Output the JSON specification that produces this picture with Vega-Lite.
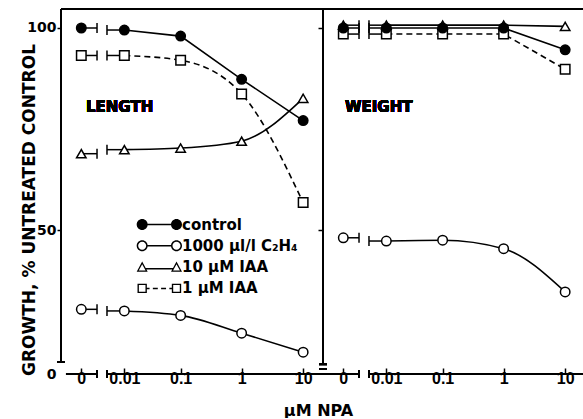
{
  "$schema": "https://vega.github.io/schema/vega-lite/v6.json",
  "padding": {"left": 20, "top": 8, "right": 0, "bottom": 0},
  "config": {
    "view": {"stroke": null},
    "font": "DejaVu Sans",
    "axis": {"labelColor": "black", "tickColor": "black", "titleColor": "black", "domainColor": "black", "grid": false}
  },
  "datasets": {
    "growth": [
      {"panel": "LENGTH", "series": "1 µM IAA", "npa": 0, "growth": 93.2},
      {"panel": "LENGTH", "series": "1 µM IAA", "npa": 0.01, "growth": 93.2},
      {"panel": "LENGTH", "series": "1 µM IAA", "npa": 0.1, "growth": 92.0},
      {"panel": "LENGTH", "series": "1 µM IAA", "npa": 1, "growth": 83.7},
      {"panel": "LENGTH", "series": "1 µM IAA", "npa": 10, "growth": 56.8},
      {"panel": "LENGTH", "series": "10 µM IAA", "npa": 0, "growth": 68.9},
      {"panel": "LENGTH", "series": "10 µM IAA", "npa": 0.01, "growth": 69.9},
      {"panel": "LENGTH", "series": "10 µM IAA", "npa": 0.1, "growth": 70.3},
      {"panel": "LENGTH", "series": "10 µM IAA", "npa": 1, "growth": 72.0},
      {"panel": "LENGTH", "series": "10 µM IAA", "npa": 10, "growth": 82.6},
      {"panel": "LENGTH", "series": "1000 µl/l C₂H₄", "npa": 0, "growth": 30.4},
      {"panel": "LENGTH", "series": "1000 µl/l C₂H₄", "npa": 0.01, "growth": 30.0},
      {"panel": "LENGTH", "series": "1000 µl/l C₂H₄", "npa": 0.1, "growth": 28.9},
      {"panel": "LENGTH", "series": "1000 µl/l C₂H₄", "npa": 1, "growth": 24.5},
      {"panel": "LENGTH", "series": "1000 µl/l C₂H₄", "npa": 10, "growth": 19.8},
      {"panel": "LENGTH", "series": "control", "npa": 0, "growth": 100.0},
      {"panel": "LENGTH", "series": "control", "npa": 0.01, "growth": 99.5},
      {"panel": "LENGTH", "series": "control", "npa": 0.1, "growth": 98.0},
      {"panel": "LENGTH", "series": "control", "npa": 1, "growth": 87.3},
      {"panel": "LENGTH", "series": "control", "npa": 10, "growth": 77.1},
      {"panel": "WEIGHT", "series": "1 µM IAA", "npa": 0, "growth": 98.5},
      {"panel": "WEIGHT", "series": "1 µM IAA", "npa": 0.01, "growth": 98.5},
      {"panel": "WEIGHT", "series": "1 µM IAA", "npa": 0.1, "growth": 98.5},
      {"panel": "WEIGHT", "series": "1 µM IAA", "npa": 1, "growth": 98.5},
      {"panel": "WEIGHT", "series": "1 µM IAA", "npa": 10, "growth": 89.8},
      {"panel": "WEIGHT", "series": "10 µM IAA", "npa": 0, "growth": 100.7},
      {"panel": "WEIGHT", "series": "10 µM IAA", "npa": 0.01, "growth": 100.7},
      {"panel": "WEIGHT", "series": "10 µM IAA", "npa": 0.1, "growth": 100.7},
      {"panel": "WEIGHT", "series": "10 µM IAA", "npa": 1, "growth": 100.7},
      {"panel": "WEIGHT", "series": "10 µM IAA", "npa": 10, "growth": 100.4},
      {"panel": "WEIGHT", "series": "1000 µl/l C₂H₄", "npa": 0, "growth": 48.1},
      {"panel": "WEIGHT", "series": "1000 µl/l C₂H₄", "npa": 0.01, "growth": 47.3},
      {"panel": "WEIGHT", "series": "1000 µl/l C₂H₄", "npa": 0.1, "growth": 47.5},
      {"panel": "WEIGHT", "series": "1000 µl/l C₂H₄", "npa": 1, "growth": 45.4},
      {"panel": "WEIGHT", "series": "1000 µl/l C₂H₄", "npa": 10, "growth": 34.7},
      {"panel": "WEIGHT", "series": "control", "npa": 0, "growth": 100.0},
      {"panel": "WEIGHT", "series": "control", "npa": 0.01, "growth": 100.0},
      {"panel": "WEIGHT", "series": "control", "npa": 0.1, "growth": 100.0},
      {"panel": "WEIGHT", "series": "control", "npa": 1, "growth": 100.0},
      {"panel": "WEIGHT", "series": "control", "npa": 10, "growth": 94.6}
    ]
  },
  "data": {"name": "growth"},
  "spacing": 0,
  "bounds": "flush",
  "resolve": {"scale": {"shape": "independent", "x": "independent", "y": "independent"}, "legend": {"shape": "independent"}},
  "hconcat": [
    {
      "width": 262,
      "height": 365,
      "transform": [{"filter": "datum.panel === 'LENGTH'"}],
      "resolve": {"scale": {"shape": "independent"}, "legend": {"shape": "independent"}},
      "layer": [
        {
          "mark": {"type": "point", "filled": true, "color": "black", "opacity": 0, "strokeWidth": 0, "size": 121},
          "encoding": {
            "x": {"field": "npa", "type": "quantitative"},
            "y": {"field": "growth", "type": "quantitative"},
            "shape": {"field": "series", "type": "nominal",
              "scale": {"domain": ["control", "1000 µl/l C₂H₄", "10 µM IAA", "1 µM IAA"],
                "range": [
                  "M1,0A1,1,0,1,1,-1,0A1,1,0,1,1,1,0ZM-5.24,0A1,1,0,1,1,-7.24,0A1,1,0,1,1,-5.24,0ZM-5.3,-0.14H-0.95V0.14H-5.3Z",
                  "M1,0A1,1,0,1,1,-1,0A1,1,0,1,1,1,0ZM0.73,0A0.73,0.73,0,1,0,-0.73,0A0.73,0.73,0,1,0,0.73,0ZM-5.24,0A1,1,0,1,1,-7.24,0A1,1,0,1,1,-5.24,0ZM-5.51,0A0.73,0.73,0,1,0,-6.97,0A0.73,0.73,0,1,0,-5.51,0ZM-5.3,-0.14H-0.95V0.14H-5.3Z",
                  "M0,-1L1,0.85L-1,0.85ZM0,-0.531L-0.62,0.616L0.62,0.616ZM-6.24,-1L-5.24,0.85L-7.24,0.85ZM-6.24,-0.531L-6.86,0.616L-5.62,0.616ZM-5.6,0.16H-0.64V0.44H-5.6Z",
                  "M-0.85,-0.85H0.85V0.85H-0.85ZM-0.6,-0.6V0.6H0.6V-0.6ZM-7.09,-0.85H-5.39V0.85H-7.09ZM-6.84,-0.6V0.6H-5.64V-0.6ZM-5.4,-0.14H-4.9V0.14H-5.4ZM-4.3,-0.14H-3.4V0.14H-4.3ZM-2.8,-0.14H-1.9V0.14H-2.8ZM-1.3,-0.14H-0.8V0.14H-1.3Z"
                ]},
              "legend": {"orient": "none", "legendX": 108, "legendY": 208, "title": null, "padding": 0,
                "symbolSize": 121, "symbolOpacity": 1, "symbolStrokeWidth": 0, "symbolFillColor": "black", "symbolStrokeColor": "black",
                "labelOffset": -2, "rowPadding": 5.3,
                "labelFont": "DejaVu Sans", "labelFontSize": 15, "labelFontWeight": "bold", "labelColor": "black"}}
          }
        },
        {
          "mark": {"type": "rule", "strokeWidth": 1.8, "color": "black"},
          "encoding": {"y": {"datum": 104.7}}
        },
        {
          "mark": {"type": "rule", "strokeWidth": 1.8, "color": "black"},
          "encoding": {"x": {"datum": -0.00284}, "y": {"datum": 17.3}, "y2": {"datum": 104.7}}
        },
        {
          "mark": {"type": "rule", "strokeWidth": 1.5, "color": "black", "xOffset": -4, "x2Offset": 4},
          "encoding": {"x": {"datum": -0.00284}, "x2": {"datum": -0.00284}, "y": {"datum": 17.3}}
        },
        {
          "mark": {"type": "rule", "strokeWidth": 1.8, "color": "black"},
          "encoding": {"x": {"datum": -0.00193}, "x2": {"datum": 0.0020}, "y": {"datum": 14.4}}
        },
        {
          "mark": {"type": "rule", "strokeWidth": 1.8, "color": "black"},
          "encoding": {"x": {"datum": 0.00403}, "x2": {"datum": 21.0}, "y": {"datum": 14.4}}
        },
        {
          "mark": {"type": "rule", "strokeWidth": 1.5, "color": "black", "yOffset": -4, "y2Offset": 4},
          "encoding": {"x": {"datum": 0.0020}, "y": {"datum": 14.4}, "y2": {"datum": 14.4}}
        },
        {
          "mark": {"type": "rule", "strokeWidth": 1.5, "color": "black", "yOffset": -4, "y2Offset": 4},
          "encoding": {"x": {"datum": 0.00403}, "y": {"datum": 14.4}, "y2": {"datum": 14.4}}
        },
        {
          "mark": {"type": "text", "align": "left", "baseline": "middle", "font": "DejaVu Sans", "fontWeight": "bold", "fontSize": 15, "color": "black"},
          "encoding": {"x": {"datum": 0.00048}, "y": {"datum": 80.4}, "text": {"value": "LENGTH"}}
        },
        {
          "transform": [{"filter": "datum.npa === 0"}],
          "mark": {"type": "rule", "strokeWidth": 1.5, "color": "black"},
          "encoding": {"x": {"field": "npa", "type": "quantitative"}, "x2": {"datum": 0.0020}, "y": {"field": "growth", "type": "quantitative"}}
        },
        {
          "transform": [{"filter": "datum.npa === 0"}],
          "mark": {"type": "rule", "strokeWidth": 1.5, "color": "black", "yOffset": -5, "y2Offset": 5},
          "encoding": {"x": {"datum": 0.0020}, "y": {"field": "growth", "type": "quantitative"}, "y2": {"field": "growth"}}
        },
        {
          "transform": [{"filter": "datum.npa === 0.01"}],
          "mark": {"type": "rule", "strokeWidth": 1.5, "color": "black"},
          "encoding": {"x": {"field": "npa", "type": "quantitative"}, "x2": {"datum": 0.00403}, "y": {"field": "growth", "type": "quantitative"}}
        },
        {
          "transform": [{"filter": "datum.npa === 0.01"}],
          "mark": {"type": "rule", "strokeWidth": 1.5, "color": "black", "yOffset": -5, "y2Offset": 5},
          "encoding": {"x": {"datum": 0.00403}, "y": {"field": "growth", "type": "quantitative"}, "y2": {"field": "growth"}}
        },
        {
          "transform": [{"filter": "datum.npa > 0 && (datum.series === '10 µM IAA' || datum.series === '1000 µl/l C₂H₄')"}],
          "mark": {"type": "line", "interpolate": "monotone", "strokeWidth": 1.6, "color": "black"},
          "encoding": {"x": {"field": "npa", "type": "quantitative"}, "y": {"field": "growth", "type": "quantitative"}, "detail": {"field": "series", "type": "nominal"}}
        },
        {
          "transform": [{"filter": "datum.npa > 0 && datum.series === '1 µM IAA'"}],
          "mark": {"type": "line", "interpolate": "monotone", "strokeWidth": 1.6, "color": "black", "strokeDash": [6, 4]},
          "encoding": {"x": {"field": "npa", "type": "quantitative"}, "y": {"field": "growth", "type": "quantitative"}}
        },
        {
          "transform": [{"filter": "datum.npa > 0 && datum.series === 'control'"}],
          "mark": {"type": "line", "strokeWidth": 1.6, "color": "black"},
          "encoding": {"x": {"field": "npa", "type": "quantitative"}, "y": {"field": "growth", "type": "quantitative"}}
        },
        {
          "mark": {"type": "point", "filled": true, "size": 90, "stroke": "black", "strokeWidth": 1.5, "opacity": 1},
          "encoding": {
            "x": {"field": "npa", "type": "quantitative",
              "scale": {"type": "symlog", "constant": 0.0025, "domain": [-0.00284, 21.0], "nice": false, "zero": false},
              "axis": {"values": [0, 0.01, 0.1, 1, 10], "format": "~g", "domain": false, "tickSize": -6, "tickWidth": 1.5,
                "labelFont": "Liberation Sans", "labelFontWeight": "bold", "labelFontSize": 16, "labelPadding": 2,
                "title": "µM NPA", "titleFont": "DejaVu Sans", "titleFontWeight": "bold", "titleFontSize": 16,
                "titleX": 257, "titleY": 36, "titleAlign": "center", "titleBaseline": "middle"}},
            "y": {"field": "growth", "type": "quantitative",
              "scale": {"domain": [14.4, 104.7], "nice": false, "zero": false},
              "axis": {"values": [14.4, 50, 100], "labelExpr": "datum.value < 20 ? '0' : datum.label",
                "tickOpacity": {"condition": {"test": "datum.value < 20", "value": 0}, "value": 1},
                "domain": false, "tickSize": 4, "tickWidth": 1.5, "labelPadding": 1,
                "labelFont": "DejaVu Sans", "labelFontWeight": "bold", "labelFontSize": 14,
                "title": "GROWTH, % UNTREATED CONTROL", "titleFont": "DejaVu Sans", "titleFontWeight": "bold", "titleFontSize": 17,
                "titleX": -27, "titleY": 200.5, "titleBaseline": "alphabetic", "titleAngle": -90}},
            "shape": {"field": "series", "type": "nominal",
              "scale": {"domain": ["control", "1000 µl/l C₂H₄", "10 µM IAA", "1 µM IAA"], "range": ["circle", "circle", "triangle-up", "square"]},
              "legend": null},
            "fill": {"field": "series", "type": "nominal",
              "scale": {"domain": ["control", "1000 µl/l C₂H₄", "10 µM IAA", "1 µM IAA"], "range": ["black", "white", "white", "white"]},
              "legend": null}
          }
        }
      ]
    },
    {
      "width": 262,
      "height": 365,
      "transform": [{"filter": "datum.panel === 'WEIGHT'"}],
      "layer": [
        {
          "mark": {"type": "rule", "strokeWidth": 1.8, "color": "black"},
          "encoding": {"y": {"datum": 104.7}}
        },
        {
          "mark": {"type": "rule", "strokeWidth": 1.8, "color": "black"},
          "encoding": {"x": {"datum": -0.00284}, "y": {"datum": 16.8}, "y2": {"datum": 104.7}}
        },
        {
          "mark": {"type": "rule", "strokeWidth": 1.5, "color": "black", "xOffset": -4, "x2Offset": 4},
          "encoding": {"x": {"datum": -0.00284}, "x2": {"datum": -0.00284}, "y": {"datum": 16.8}}
        },
        {
          "mark": {"type": "rule", "strokeWidth": 1.5, "color": "black", "xOffset": -4, "x2Offset": 4},
          "encoding": {"x": {"datum": -0.00284}, "x2": {"datum": -0.00284}, "y": {"datum": 15.7}}
        },
        {
          "mark": {"type": "rule", "strokeWidth": 1.8, "color": "black"},
          "encoding": {"x": {"datum": -0.00284}, "x2": {"datum": 0.0020}, "y": {"datum": 14.4}}
        },
        {
          "mark": {"type": "rule", "strokeWidth": 1.8, "color": "black"},
          "encoding": {"x": {"datum": 0.00403}, "x2": {"datum": 21.0}, "y": {"datum": 14.4}}
        },
        {
          "mark": {"type": "rule", "strokeWidth": 1.5, "color": "black", "yOffset": -4, "y2Offset": 4},
          "encoding": {"x": {"datum": 0.0020}, "y": {"datum": 14.4}, "y2": {"datum": 14.4}}
        },
        {
          "mark": {"type": "rule", "strokeWidth": 1.5, "color": "black", "yOffset": -4, "y2Offset": 4},
          "encoding": {"x": {"datum": 0.00403}, "y": {"datum": 14.4}, "y2": {"datum": 14.4}}
        },
        {
          "mark": {"type": "text", "align": "left", "baseline": "middle", "font": "DejaVu Sans", "fontWeight": "bold", "fontSize": 15, "color": "black"},
          "encoding": {"x": {"datum": 0.00016}, "y": {"datum": 80.4}, "text": {"value": "WEIGHT"}}
        },
        {
          "transform": [{"filter": "datum.npa === 0"}],
          "mark": {"type": "rule", "strokeWidth": 1.5, "color": "black"},
          "encoding": {"x": {"field": "npa", "type": "quantitative"}, "x2": {"datum": 0.0020}, "y": {"field": "growth", "type": "quantitative"}}
        },
        {
          "transform": [{"filter": "datum.npa === 0"}],
          "mark": {"type": "rule", "strokeWidth": 1.5, "color": "black", "yOffset": -5, "y2Offset": 5},
          "encoding": {"x": {"datum": 0.0020}, "y": {"field": "growth", "type": "quantitative"}, "y2": {"field": "growth"}}
        },
        {
          "transform": [{"filter": "datum.npa === 0.01"}],
          "mark": {"type": "rule", "strokeWidth": 1.5, "color": "black"},
          "encoding": {"x": {"field": "npa", "type": "quantitative"}, "x2": {"datum": 0.00403}, "y": {"field": "growth", "type": "quantitative"}}
        },
        {
          "transform": [{"filter": "datum.npa === 0.01"}],
          "mark": {"type": "rule", "strokeWidth": 1.5, "color": "black", "yOffset": -5, "y2Offset": 5},
          "encoding": {"x": {"datum": 0.00403}, "y": {"field": "growth", "type": "quantitative"}, "y2": {"field": "growth"}}
        },
        {
          "transform": [{"filter": "datum.npa > 0 && datum.series === '1000 µl/l C₂H₄'"}],
          "mark": {"type": "line", "interpolate": "monotone", "strokeWidth": 1.6, "color": "black"},
          "encoding": {"x": {"field": "npa", "type": "quantitative"}, "y": {"field": "growth", "type": "quantitative"}}
        },
        {
          "transform": [{"filter": "datum.npa > 0 && datum.series === '1 µM IAA'"}],
          "mark": {"type": "line", "strokeWidth": 1.6, "color": "black", "strokeDash": [6, 4]},
          "encoding": {"x": {"field": "npa", "type": "quantitative"}, "y": {"field": "growth", "type": "quantitative"}}
        },
        {
          "transform": [{"filter": "datum.npa > 0 && (datum.series === 'control' || datum.series === '10 µM IAA')"}],
          "mark": {"type": "line", "strokeWidth": 1.6, "color": "black"},
          "encoding": {"x": {"field": "npa", "type": "quantitative"}, "y": {"field": "growth", "type": "quantitative"}, "detail": {"field": "series", "type": "nominal"}}
        },
        {
          "mark": {"type": "point", "filled": true, "size": 90, "stroke": "black", "strokeWidth": 1.5, "opacity": 1},
          "encoding": {
            "x": {"field": "npa", "type": "quantitative",
              "scale": {"type": "symlog", "constant": 0.0025, "domain": [-0.00284, 21.0], "nice": false, "zero": false},
              "axis": {"values": [0, 0.01, 0.1, 1, 10], "format": "~g", "domain": false, "tickSize": -6, "tickWidth": 1.5,
                "labelFont": "Liberation Sans", "labelFontWeight": "bold", "labelFontSize": 16, "labelPadding": 2, "title": null}},
            "y": {"field": "growth", "type": "quantitative",
              "scale": {"domain": [14.4, 104.7], "nice": false, "zero": false},
              "axis": {"values": [50, 100], "labels": false, "domain": false, "tickSize": 5, "tickWidth": 1.5, "title": null}},
            "shape": {"field": "series", "type": "nominal",
              "scale": {"domain": ["control", "1000 µl/l C₂H₄", "10 µM IAA", "1 µM IAA"], "range": ["circle", "circle", "triangle-up", "square"]},
              "legend": null},
            "fill": {"field": "series", "type": "nominal",
              "scale": {"domain": ["control", "1000 µl/l C₂H₄", "10 µM IAA", "1 µM IAA"], "range": ["black", "white", "white", "white"]},
              "legend": null}
          }
        }
      ]
    }
  ]
}
